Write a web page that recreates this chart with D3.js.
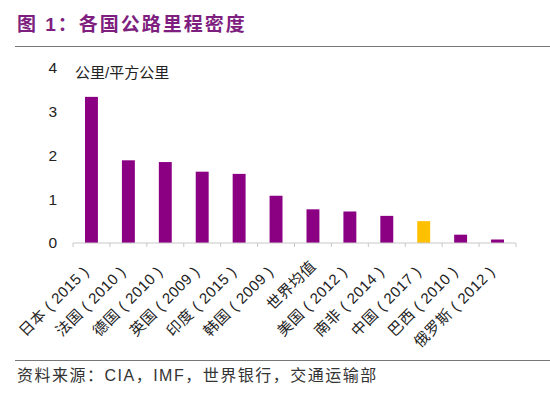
<!DOCTYPE html>
<html><head><meta charset="utf-8">
<script src="https://cdn.jsdelivr.net/npm/d3@7/dist/d3.min.js"></script>
<style>body{margin:0;background:#fff;} svg{display:block;}</style>
</head><body><svg id="c" width="550" height="398"></svg>
<script>
const categories = ["日本（2015）","法国（2010）","德国（2010）","英国（2009）","印度（2015）","韩国（2009）","世界均值","美国（2012）","南非（2014）","中国（2017）","巴西（2010）","俄罗斯（2012）"];
const values = [3.34, 1.89, 1.85, 1.63, 1.58, 1.08, 0.77, 0.72, 0.62, 0.50, 0.19, 0.08];
const highlight = ["中国（2017）"];
const yTicks = [0,1,2,3,4];

const svg = d3.select("#c");
const cjk = "'Liberation Sans','Noto Sans CJK SC',sans-serif";

// title
svg.append("text").attr("x",17).attr("y",31)
  .attr("font-family",cjk).attr("font-weight","bold").attr("font-size",19).attr("letter-spacing",2)
  .attr("fill","#7e1f80").text("图 1：各国公路里程密度");
svg.append("line").attr("x1",15).attr("x2",550).attr("y1",46.5).attr("y2",46.5)
  .attr("stroke","#777").attr("stroke-width",1.2);

const x = d3.scaleBand().domain(categories).range([73,516]).paddingInner(0.65).paddingOuter(0.325);
const y = d3.scaleLinear().domain([0,4]).range([243,68]);

// y axis labels
const ya = svg.append("g").attr("transform","translate(58,0)")
  .call(d3.axisLeft(y).tickValues(yTicks).tickSize(0).tickPadding(0).tickFormat(d3.format("d")));
ya.select(".domain").remove();
ya.selectAll("text").attr("font-family","'Liberation Sans',Arial,sans-serif").attr("font-size",15.5).attr("fill","#222").attr("dx","-1");

svg.append("text").attr("x",75).attr("y",78).attr("font-family",cjk).attr("font-size",15).attr("fill","#222").text("公里/平方公里");

// bars
svg.append("g").selectAll("rect").data(categories).join("rect")
  .attr("x",d=>x(d)).attr("width",x.bandwidth())
  .attr("y",(d,i)=>y(values[i])).attr("height",(d,i)=>y(0)-y(values[i]))
  .attr("fill",d=>highlight.includes(d)?"#ffc000":"#8b0083");

// x axis
const xb = d3.scaleLinear().domain([0,categories.length]).range([73,516]);
const xa = svg.append("g").attr("transform","translate(0,243)");
xa.append("line").attr("x1",73).attr("x2",516).attr("stroke","#c8c8c8").attr("stroke-width",1);
xa.selectAll("line.t").data(d3.range(categories.length+1)).join("line").attr("class","t")
  .attr("x1",d=>xb(d)).attr("x2",d=>xb(d)).attr("y1",0).attr("y2",4).attr("stroke","#c8c8c8");

// centred-paren display of labels
const show = d => d.replace("（"," ( ").replace("）"," )\u2002");
svg.append("g").selectAll("text").data(categories).join("text")
  .attr("transform",d=>`translate(${x(d)+x.bandwidth()/2+4},267) rotate(-45)`)
  .attr("text-anchor","end").attr("font-family",cjk).attr("font-size",15).attr("letter-spacing",0.5).attr("fill","#222")
  .attr("xml:space","preserve").style("white-space","pre")
  .text(show);

// footer
svg.append("line").attr("x1",15).attr("x2",550).attr("y1",360.5).attr("y2",360.5)
  .attr("stroke","#777").attr("stroke-width",1.2);
svg.append("text").attr("x",17).attr("y",381).attr("font-family",cjk).attr("font-size",16).attr("letter-spacing",1.5).attr("fill","#333")
  .text("资料来源：CIA，IMF，世界银行，交通运输部");
</script></body></html>
